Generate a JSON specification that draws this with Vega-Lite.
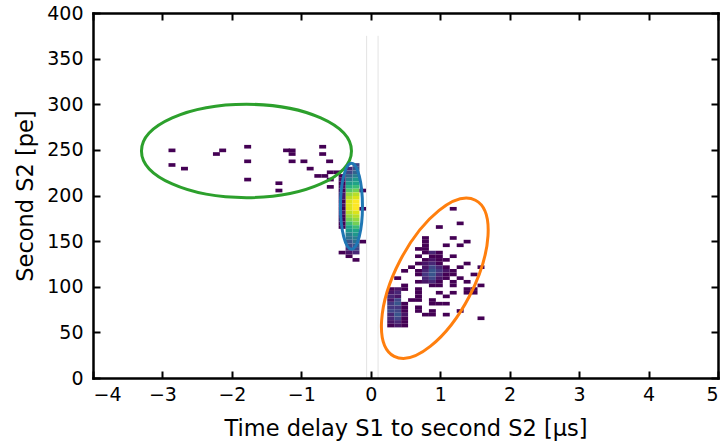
{
  "$schema": "https://vega.github.io/schema/vega-lite/v6.json",
  "width": 625,
  "height": 365,
  "autosize": "none",
  "padding": {"left": 93, "top": 13, "right": 3, "bottom": 70},
  "background": "white",
  "config": {
    "view": {"stroke": null},
    "axis": {
      "domainColor": "black", "domainWidth": 2.5, "domainCap": "square",
      "tickColor": "black", "tickWidth": 2, "tickSize": -7,
      "grid": false,
      "labelFont": "DejaVu Sans", "labelFontSize": 19, "labelColor": "black",
      "titleFont": "DejaVu Sans", "titleFontSize": 22.5, "titleFontWeight": "normal", "titleColor": "black"
    },
    "axisX": {"labelPadding": 14, "titlePadding": 13},
    "axisY": {"labelPadding": 17, "titlePadding": 9}
  },
  "datasets": {
    "cells": [
      {"delay": -2.92, "s2": 248, "count": 1}, {"delay": -2.92, "s2": 232, "count": 1}, {"delay": -2.74, "s2": 228, "count": 1},
      {"delay": -2.28, "s2": 244, "count": 1}, {"delay": -2.19, "s2": 248, "count": 1}, {"delay": -1.83, "s2": 252, "count": 1},
      {"delay": -1.83, "s2": 236, "count": 1}, {"delay": -1.83, "s2": 216, "count": 1}, {"delay": -1.27, "s2": 248, "count": 1},
      {"delay": -1.19, "s2": 248, "count": 1}, {"delay": -1.19, "s2": 244, "count": 1}, {"delay": -1.19, "s2": 236, "count": 1},
      {"delay": -1.02, "s2": 236, "count": 1}, {"delay": -0.93, "s2": 228, "count": 1}, {"delay": -0.75, "s2": 252, "count": 1},
      {"delay": -0.75, "s2": 244, "count": 1}, {"delay": -0.65, "s2": 236, "count": 1}, {"delay": -0.82, "s2": 220, "count": 1},
      {"delay": -0.72, "s2": 220, "count": 1}, {"delay": -0.64, "s2": 224, "count": 1}, {"delay": -0.54, "s2": 224, "count": 1},
      {"delay": -0.64, "s2": 216, "count": 1}, {"delay": -0.64, "s2": 208, "count": 1}, {"delay": -1.38, "s2": 212, "count": 1},
      {"delay": -1.38, "s2": 204, "count": 1},

      {"delay": -0.27, "s2": 232, "count": 5}, {"delay": -0.27, "s2": 228, "count": 6}, {"delay": -0.27, "s2": 224, "count": 7},
      {"delay": -0.27, "s2": 220, "count": 9}, {"delay": -0.27, "s2": 216, "count": 11}, {"delay": -0.27, "s2": 212, "count": 12},
      {"delay": -0.27, "s2": 208, "count": 14}, {"delay": -0.27, "s2": 204, "count": 16}, {"delay": -0.27, "s2": 200, "count": 18},
      {"delay": -0.27, "s2": 196, "count": 19}, {"delay": -0.27, "s2": 192, "count": 20}, {"delay": -0.27, "s2": 188, "count": 20},
      {"delay": -0.27, "s2": 184, "count": 20}, {"delay": -0.27, "s2": 180, "count": 19}, {"delay": -0.27, "s2": 176, "count": 18},
      {"delay": -0.27, "s2": 172, "count": 17}, {"delay": -0.27, "s2": 168, "count": 16}, {"delay": -0.27, "s2": 164, "count": 14},
      {"delay": -0.27, "s2": 160, "count": 12}, {"delay": -0.27, "s2": 156, "count": 11}, {"delay": -0.27, "s2": 152, "count": 9},
      {"delay": -0.27, "s2": 148, "count": 8}, {"delay": -0.27, "s2": 144, "count": 6}, {"delay": -0.27, "s2": 140, "count": 5},
      {"delay": -0.27, "s2": 136, "count": 3},

      {"delay": -0.37, "s2": 228, "count": 3}, {"delay": -0.37, "s2": 224, "count": 5}, {"delay": -0.37, "s2": 220, "count": 7},
      {"delay": -0.37, "s2": 216, "count": 9}, {"delay": -0.37, "s2": 212, "count": 11}, {"delay": -0.37, "s2": 208, "count": 13},
      {"delay": -0.37, "s2": 204, "count": 15}, {"delay": -0.37, "s2": 200, "count": 17}, {"delay": -0.37, "s2": 196, "count": 18},
      {"delay": -0.37, "s2": 192, "count": 19}, {"delay": -0.37, "s2": 188, "count": 19}, {"delay": -0.37, "s2": 184, "count": 19},
      {"delay": -0.37, "s2": 180, "count": 18}, {"delay": -0.37, "s2": 176, "count": 17}, {"delay": -0.37, "s2": 172, "count": 16},
      {"delay": -0.37, "s2": 168, "count": 14}, {"delay": -0.37, "s2": 164, "count": 12}, {"delay": -0.37, "s2": 160, "count": 11},
      {"delay": -0.37, "s2": 156, "count": 9}, {"delay": -0.37, "s2": 152, "count": 8}, {"delay": -0.37, "s2": 148, "count": 6},
      {"delay": -0.37, "s2": 144, "count": 5}, {"delay": -0.37, "s2": 140, "count": 3}, {"delay": -0.37, "s2": 136, "count": 2},

      {"delay": -0.47, "s2": 220, "count": 1}, {"delay": -0.47, "s2": 216, "count": 2}, {"delay": -0.47, "s2": 212, "count": 1},
      {"delay": -0.47, "s2": 208, "count": 2}, {"delay": -0.47, "s2": 204, "count": 1}, {"delay": -0.47, "s2": 200, "count": 2},
      {"delay": -0.47, "s2": 196, "count": 2}, {"delay": -0.47, "s2": 192, "count": 1}, {"delay": -0.47, "s2": 188, "count": 2},
      {"delay": -0.47, "s2": 184, "count": 1}, {"delay": -0.47, "s2": 180, "count": 2}, {"delay": -0.47, "s2": 176, "count": 1},
      {"delay": -0.47, "s2": 172, "count": 1}, {"delay": -0.47, "s2": 168, "count": 1}, {"delay": -0.47, "s2": 164, "count": 1},
      {"delay": -0.47, "s2": 136, "count": 1},
      {"delay": -0.17, "s2": 204, "count": 1}, {"delay": -0.17, "s2": 184, "count": 1}, {"delay": -0.17, "s2": 148, "count": 1},
      {"delay": -0.37, "s2": 132, "count": 1}, {"delay": -0.27, "s2": 128, "count": 1},

      {"delay": 1.13, "s2": 184, "count": 1}, {"delay": 0.93, "s2": 164, "count": 1}, {"delay": 1.23, "s2": 168, "count": 1},
      {"delay": 1.13, "s2": 152, "count": 1}, {"delay": 1.33, "s2": 148, "count": 1}, {"delay": 1.03, "s2": 144, "count": 1},
      {"delay": 1.23, "s2": 144, "count": 1}, {"delay": 0.73, "s2": 152, "count": 1}, {"delay": 0.73, "s2": 148, "count": 1},
      {"delay": 0.73, "s2": 144, "count": 1}, {"delay": 0.73, "s2": 140, "count": 1}, {"delay": 0.73, "s2": 136, "count": 1},
      {"delay": 0.63, "s2": 140, "count": 1}, {"delay": 0.63, "s2": 132, "count": 1}, {"delay": 0.83, "s2": 136, "count": 3},
      {"delay": 0.83, "s2": 132, "count": 1}, {"delay": 0.93, "s2": 136, "count": 1}, {"delay": 0.93, "s2": 132, "count": 1},
      {"delay": 1.13, "s2": 132, "count": 1}, {"delay": 1.53, "s2": 120, "count": 1},
      {"delay": 0.73, "s2": 128, "count": 1}, {"delay": 0.83, "s2": 128, "count": 2}, {"delay": 0.93, "s2": 128, "count": 1}, {"delay": 1.03, "s2": 128, "count": 1},
      {"delay": 0.63, "s2": 124, "count": 1}, {"delay": 0.73, "s2": 124, "count": 2}, {"delay": 0.83, "s2": 124, "count": 3}, {"delay": 0.93, "s2": 124, "count": 1}, {"delay": 1.33, "s2": 124, "count": 1},
      {"delay": 0.53, "s2": 120, "count": 1}, {"delay": 0.73, "s2": 120, "count": 2}, {"delay": 0.83, "s2": 120, "count": 5}, {"delay": 0.93, "s2": 120, "count": 3}, {"delay": 1.03, "s2": 120, "count": 1}, {"delay": 1.23, "s2": 120, "count": 1},
      {"delay": 0.43, "s2": 116, "count": 1}, {"delay": 0.63, "s2": 116, "count": 1}, {"delay": 0.73, "s2": 116, "count": 3}, {"delay": 0.83, "s2": 116, "count": 6}, {"delay": 0.93, "s2": 116, "count": 4}, {"delay": 1.03, "s2": 116, "count": 2}, {"delay": 1.13, "s2": 116, "count": 1},
      {"delay": 0.63, "s2": 112, "count": 1}, {"delay": 0.73, "s2": 112, "count": 4}, {"delay": 0.83, "s2": 112, "count": 6}, {"delay": 0.93, "s2": 112, "count": 3}, {"delay": 1.03, "s2": 112, "count": 1}, {"delay": 1.13, "s2": 112, "count": 1}, {"delay": 1.43, "s2": 112, "count": 1},
      {"delay": 0.33, "s2": 108, "count": 1}, {"delay": 0.73, "s2": 108, "count": 3}, {"delay": 0.83, "s2": 108, "count": 5}, {"delay": 0.93, "s2": 108, "count": 2}, {"delay": 1.03, "s2": 108, "count": 1}, {"delay": 1.23, "s2": 108, "count": 1},
      {"delay": 0.63, "s2": 104, "count": 1}, {"delay": 0.73, "s2": 104, "count": 2}, {"delay": 0.83, "s2": 104, "count": 3}, {"delay": 0.93, "s2": 104, "count": 1}, {"delay": 1.13, "s2": 104, "count": 1}, {"delay": 1.33, "s2": 104, "count": 1},
      {"delay": 0.43, "s2": 100, "count": 1}, {"delay": 0.83, "s2": 100, "count": 1}, {"delay": 0.93, "s2": 100, "count": 1}, {"delay": 1.13, "s2": 100, "count": 1}, {"delay": 1.53, "s2": 100, "count": 1},
      {"delay": 0.23, "s2": 96, "count": 1}, {"delay": 0.33, "s2": 96, "count": 2}, {"delay": 0.43, "s2": 96, "count": 1}, {"delay": 0.63, "s2": 96, "count": 1}, {"delay": 1.33, "s2": 96, "count": 1}, {"delay": 1.43, "s2": 96, "count": 1},
      {"delay": 0.23, "s2": 92, "count": 2}, {"delay": 0.33, "s2": 92, "count": 3}, {"delay": 0.63, "s2": 92, "count": 1}, {"delay": 0.93, "s2": 92, "count": 1}, {"delay": 1.13, "s2": 92, "count": 1}, {"delay": 1.33, "s2": 92, "count": 1}, {"delay": 1.43, "s2": 92, "count": 1},
      {"delay": 0.23, "s2": 88, "count": 3}, {"delay": 0.33, "s2": 88, "count": 2}, {"delay": 0.63, "s2": 88, "count": 1}, {"delay": 1.03, "s2": 88, "count": 1},
      {"delay": 0.23, "s2": 84, "count": 2}, {"delay": 0.33, "s2": 84, "count": 5}, {"delay": 0.53, "s2": 84, "count": 1}, {"delay": 0.63, "s2": 84, "count": 1}, {"delay": 0.83, "s2": 84, "count": 1},
      {"delay": 0.23, "s2": 80, "count": 4}, {"delay": 0.33, "s2": 80, "count": 6}, {"delay": 0.43, "s2": 80, "count": 1}, {"delay": 0.83, "s2": 80, "count": 1}, {"delay": 0.93, "s2": 80, "count": 1}, {"delay": 1.03, "s2": 80, "count": 1},
      {"delay": 0.23, "s2": 76, "count": 4}, {"delay": 0.33, "s2": 76, "count": 4}, {"delay": 0.43, "s2": 76, "count": 1}, {"delay": 0.63, "s2": 76, "count": 1},
      {"delay": 0.23, "s2": 72, "count": 5}, {"delay": 0.33, "s2": 72, "count": 5}, {"delay": 0.43, "s2": 72, "count": 1}, {"delay": 0.63, "s2": 72, "count": 1}, {"delay": 0.83, "s2": 72, "count": 1}, {"delay": 1.23, "s2": 72, "count": 1},
      {"delay": 0.23, "s2": 68, "count": 3}, {"delay": 0.33, "s2": 68, "count": 6}, {"delay": 0.43, "s2": 68, "count": 2}, {"delay": 0.73, "s2": 68, "count": 1}, {"delay": 0.83, "s2": 68, "count": 1}, {"delay": 1.03, "s2": 68, "count": 1},
      {"delay": 0.23, "s2": 64, "count": 3}, {"delay": 0.33, "s2": 64, "count": 5}, {"delay": 0.43, "s2": 64, "count": 1}, {"delay": 1.53, "s2": 64, "count": 1},
      {"delay": 0.23, "s2": 60, "count": 2}, {"delay": 0.33, "s2": 60, "count": 3}, {"delay": 0.43, "s2": 60, "count": 1},
      {"delay": 0.23, "s2": 56, "count": 1}, {"delay": 0.33, "s2": 56, "count": 2}, {"delay": 0.43, "s2": 56, "count": 1}
    ],
    "lines": [
      {"delay": -0.06, "lo": 0, "hi": 375},
      {"delay": 0.105, "lo": 0, "hi": 375}
    ],
    "ellipses": [
      {"name": "green", "cx": -1.79, "cy": 248.8},
      {"name": "blue", "cx": -0.278, "cy": 188.2},
      {"name": "orange", "cx": 0.922, "cy": 109.3}
    ]
  },
  "layer": [
    {
      "data": {"name": "cells"},
      "mark": {"type": "rect", "binSpacing": 0},
      "encoding": {
        "x": {"field": "delay", "type": "quantitative", "bin": {"binned": true, "step": 0.1},
              "scale": {"domain": [-4, 5], "nice": false, "zero": false},
              "axis": {"orient": "bottom", "values": [-4, -3, -2, -1, 0, 1, 2, 3, 4, 5], "title": "Time delay S1 to second S2 [µs]", "format": "d"}},
        "y": {"field": "s2", "type": "quantitative", "bin": {"binned": true, "step": 4},
              "scale": {"domain": [0, 400], "nice": false, "zero": false},
              "axis": {"orient": "left", "values": [0, 50, 100, 150, 200, 250, 300, 350, 400], "title": "Second S2 [pe]", "format": "d"}},
        "color": {"field": "count", "type": "quantitative", "scale": {"scheme": "viridis", "domain": [1, 20]}, "legend": null}
      }
    },
    {
      "data": {"name": "lines"},
      "mark": {"type": "rule", "color": "#e3e3e3", "strokeWidth": 1},
      "encoding": {
        "x": {"field": "delay", "type": "quantitative", "scale": {"domain": [-4, 5], "nice": false, "zero": false},
              "axis": {"orient": "top", "values": [-4, -3, -2, -1, 0, 1, 2, 3, 4, 5], "labels": false, "title": null}},
        "y": {"field": "lo", "type": "quantitative", "scale": {"domain": [0, 400], "nice": false, "zero": false},
              "axis": {"orient": "right", "values": [0, 50, 100, 150, 200, 250, 300, 350, 400], "labels": false, "title": null}},
        "y2": {"field": "hi"}
      }
    },
    {
      "data": {"name": "ellipses"},
      "transform": [{"filter": "datum.name === 'green'"}],
      "mark": {"type": "point", "shape": "M 105 0 C 105 25.8 58 46.7 0 46.7 C -58 46.7 -105 25.8 -105 0 C -105 -25.8 -58 -46.7 0 -46.7 C 58 -46.7 105 -25.8 105 0 Z", "size": 4, "filled": false, "stroke": "#2ca02c", "strokeWidth": 3, "opacity": 1},
      "encoding": {
        "x": {"field": "cx", "type": "quantitative", "axis": null},
        "y": {"field": "cy", "type": "quantitative", "axis": null}
      }
    },
    {
      "data": {"name": "ellipses"},
      "transform": [{"filter": "datum.name === 'blue'"}],
      "mark": {"type": "point", "shape": "M 11 0 C 11 23.75 6.08 43 0 43 C -6.08 43 -11 23.75 -11 0 C -11 -23.75 -6.08 -43 0 -43 C 6.08 -43 11 -23.75 11 0 Z", "size": 4, "filled": false, "stroke": "#1f77b4", "strokeWidth": 3, "opacity": 1},
      "encoding": {
        "x": {"field": "cx", "type": "quantitative", "axis": null},
        "y": {"field": "cy", "type": "quantitative", "axis": null}
      }
    },
    {
      "data": {"name": "ellipses"},
      "transform": [{"filter": "datum.name === 'orange'"}],
      "mark": {"type": "point", "shape": "M 39 0 C 39 48.6 21.54 88 0 88 C -21.54 88 -39 48.6 -39 0 C -39 -48.6 -21.54 -88 0 -88 C 21.54 -88 39 -48.6 39 0 Z", "size": 4, "angle": 27.5, "filled": false, "stroke": "#ff7f0e", "strokeWidth": 3, "opacity": 1},
      "encoding": {
        "x": {"field": "cx", "type": "quantitative", "axis": null},
        "y": {"field": "cy", "type": "quantitative", "axis": null}
      }
    }
  ],
  "resolve": {"axis": {"x": "independent", "y": "independent"}}
}
